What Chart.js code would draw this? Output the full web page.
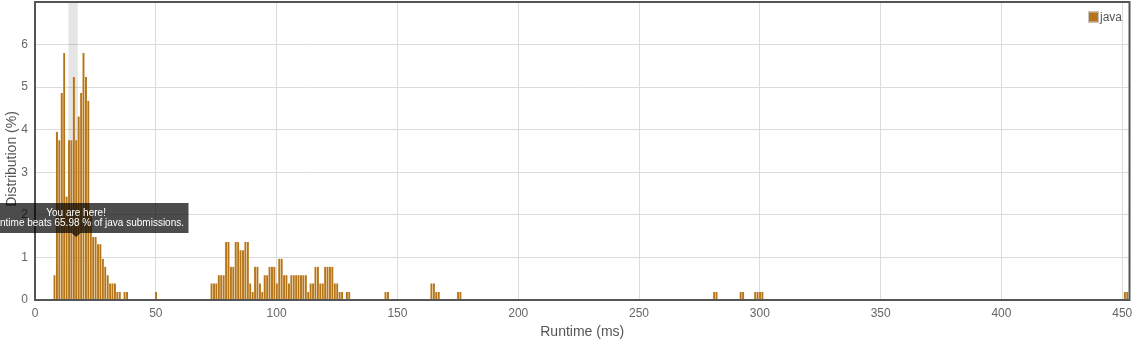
<!DOCTYPE html>
<html>
<head>
<meta charset="utf-8">
<script src="https://cdn.jsdelivr.net/npm/chart.js@4.4.0/dist/chart.umd.min.js"></script>
<style>
html, body { margin: 0; padding: 0; background: #fff; }
</style>
</head>
<body>
<canvas id="runtimeChart" width="1133" height="344"></canvas>
<script>
// runtime (ms) de cada columna y su porcentaje
const runtimes = [
    8, 9, 10, 11, 12, 13, 14, 15, 16, 17, 18, 19, 20, 21, 22, 23, 24, 25, 26, 27, 28, 29, 30, 31, 32, 33, 34, 35, 37, 38, 50,
    73, 74, 75, 76, 77, 78, 79, 80, 81, 82, 83, 84, 85, 86, 87, 88, 89, 90, 91, 92, 93, 94, 95, 96, 97, 98, 99, 100,
    101, 102, 103, 104, 105, 106, 107, 108, 109, 110, 111, 112, 113, 114, 115, 116, 117, 118, 119, 120, 121, 122, 123,
    124, 125, 126, 127, 129, 130,
    145, 146, 164, 165, 166, 167, 175, 176, 281, 282, 292, 293, 298, 299, 300, 301, 451, 452
];
const distribution = [
    0.58, 3.95, 3.75, 4.86, 5.80, 2.43, 3.75, 3.75, 5.24, 3.75, 4.31, 4.86, 5.80, 5.24, 4.68, 2.04, 1.48, 1.48, 1.31, 1.31, 0.97, 0.78, 0.58, 0.39, 0.39, 0.39, 0.19, 0.19, 0.19, 0.19, 0.19,
    0.39, 0.39, 0.39, 0.58, 0.58, 0.58, 1.36, 1.36, 0.78, 0.78, 1.36, 1.36, 1.17, 1.17, 1.36, 1.36, 0.39, 0.19, 0.78, 0.78, 0.39, 0.19, 0.58, 0.58, 0.78, 0.78, 0.78, 0.39,
    0.97, 0.97, 0.58, 0.58, 0.39, 0.58, 0.58, 0.58, 0.58, 0.58, 0.58, 0.58, 0.19, 0.39, 0.39, 0.78, 0.78, 0.39, 0.39, 0.78, 0.78, 0.78, 0.78,
    0.39, 0.39, 0.19, 0.19, 0.19, 0.19,
    0.19, 0.19, 0.39, 0.39, 0.19, 0.19, 0.19, 0.19, 0.19, 0.19, 0.19, 0.19, 0.19, 0.19, 0.19, 0.19, 0.19, 0.19
];
const xTicks = [0, 50, 100, 150, 200, 250, 300, 350, 400, 450];
const yTicks = [0, 1, 2, 3, 4, 5, 6];
const language = 'java';
const beatsPercent = 65.98;
const highlightBand = [13.8, 17.7];           // franja gris de "tu" runtime
const youAreHere = { runtime: 17, percent: 1.48 }; // punta de la flecha del globo

const barColor = '#b5761b';
const fontFamily = '"Liberation Sans", Arial, Helvetica, sans-serif';

// franja, titulo Y, marco, leyenda y globo "You are here!"
const extrasPlugin = {
    id: 'extras',
    beforeDatasetsDraw(chart) {
        const { ctx, chartArea, scales: { x } } = chart;
        const x0 = x.getPixelForValue(highlightBand[0]);
        const x1 = x.getPixelForValue(highlightBand[1]);
        ctx.save();
        ctx.fillStyle = 'rgba(0,0,0,0.1)';
        ctx.fillRect(x0, chartArea.top, x1 - x0, chartArea.bottom - chartArea.top);
        ctx.restore();
    },
    afterDraw(chart) {
        const { ctx, chartArea, scales: { x, y } } = chart;
        ctx.save();

        // titulo del eje Y (un poco mas abajo que el centro, como en el original)
        ctx.save();
        ctx.translate(12.5, (chartArea.top + chartArea.bottom) / 2 + 8);
        ctx.rotate(-Math.PI / 2);
        ctx.font = '14px ' + fontFamily;
        ctx.fillStyle = '#555';
        ctx.textAlign = 'center';
        ctx.textBaseline = 'middle';
        ctx.fillText('Distribution (%)', 0, 0);
        ctx.restore();

        // marco
        ctx.strokeStyle = '#555';
        ctx.lineWidth = 2;
        ctx.strokeRect(chartArea.left, chartArea.top, chartArea.right - chartArea.left, chartArea.bottom - chartArea.top);

        // leyenda
        ctx.font = '12px ' + fontFamily;
        const label = chart.data.datasets[0].label;
        const tw = ctx.measureText(label).width;
        const tx = chartArea.right - 7.5 - tw;
        const boxTop = chartArea.top + 9.5;
        ctx.fillStyle = barColor;
        ctx.fillRect(tx - 12, boxTop, 11, 11);
        ctx.strokeStyle = '#c8c8c8';
        ctx.lineWidth = 1;
        ctx.strokeRect(tx - 11.5, boxTop + 0.5, 10, 10);
        ctx.fillStyle = '#555';
        ctx.textBaseline = 'middle';
        ctx.textAlign = 'left';
        ctx.fillText(label, tx, boxTop + 6);

        // globo
        const line1 = 'You are here!';
        const line2 = `Your runtime beats ${beatsPercent} % of ${language} submissions.`;
        ctx.font = '10px ' + fontFamily;
        const w = Math.max(ctx.measureText(line1).width, ctx.measureText(line2).width) + 9;
        const h = 30;
        const px = x.getPixelForValue(youAreHere.runtime);
        const py = y.getPixelForValue(youAreHere.percent);
        const bottom = py - 4;
        const top = bottom - h;
        const left = px - w / 2;
        ctx.beginPath();
        ctx.moveTo(left, top);
        ctx.lineTo(left + w, top);
        ctx.lineTo(left + w, bottom);
        ctx.lineTo(px + 4.5, bottom);
        ctx.lineTo(px, py);
        ctx.lineTo(px - 4.5, bottom);
        ctx.lineTo(left, bottom);
        ctx.closePath();
        ctx.fillStyle = 'rgba(0,0,0,0.7)';
        ctx.fill();
        ctx.fillStyle = '#fff';
        ctx.textAlign = 'center';
        ctx.textBaseline = 'middle';
        ctx.fillText(line1, px, top + 10);
        ctx.fillText(line2, px, top + 20.5);

        ctx.restore();
    }
};

// quita el relleno extra que Chart.js deja para las etiquetas de los extremos
function sinPadding(scale) {
    scale.paddingTop = 0;
    scale.paddingBottom = 0;
    scale.paddingLeft = 0;
    scale.paddingRight = 0;
}

function initChart() {
    const ctx = document.getElementById('runtimeChart').getContext('2d');

    new Chart(ctx, {
        type: 'bar',
        data: {
            datasets: [{
                label: language,
                data: runtimes.map((r, i) => ({ x: r, y: distribution[i] })),
                backgroundColor: barColor,
                borderColor: 'rgba(255,215,150,0.3)',
                borderWidth: { left: 0.8, top: 0, right: 0, bottom: 0 },
                borderSkipped: false,
                barPercentage: 1,
                categoryPercentage: 1
            }]
        },
        options: {
            responsive: false,
            animation: false,
            events: [],
            layout: { padding: { top: 2, right: 3.5, left: 0, bottom: 0 } },
            plugins: {
                legend: { display: false },
                tooltip: { enabled: false }
            },
            scales: {
                x: {
                    type: 'linear',
                    offset: false,
                    min: 0,
                    max: 453,
                    afterBuildTicks: (scale) => { scale.ticks = xTicks.map(v => ({ value: v })); },
                    afterFit: (scale) => { scale.height = 44; sinPadding(scale); },
                    grid: { color: '#dcdcdc', drawTicks: false, offset: false },
                    border: { display: false },
                    ticks: { color: '#666', padding: 6, font: { size: 12, family: fontFamily } },
                    title: {
                        display: true,
                        text: 'Runtime (ms)',
                        color: '#555',
                        font: { size: 14, family: fontFamily },
                        padding: { top: 0, bottom: 3 }
                    }
                },
                y: {
                    min: 0,
                    max: 7,
                    afterBuildTicks: (scale) => { scale.ticks = yTicks.map(v => ({ value: v })); },
                    afterFit: (scale) => { scale.width = 35; sinPadding(scale); },
                    grid: { color: '#dcdcdc', drawTicks: false },
                    border: { display: false },
                    ticks: { color: '#666', padding: 7, font: { size: 12, family: fontFamily } }
                }
            }
        },
        plugins: [extrasPlugin]
    });
}

document.addEventListener('DOMContentLoaded', initChart);
</script>
</body>
</html>
